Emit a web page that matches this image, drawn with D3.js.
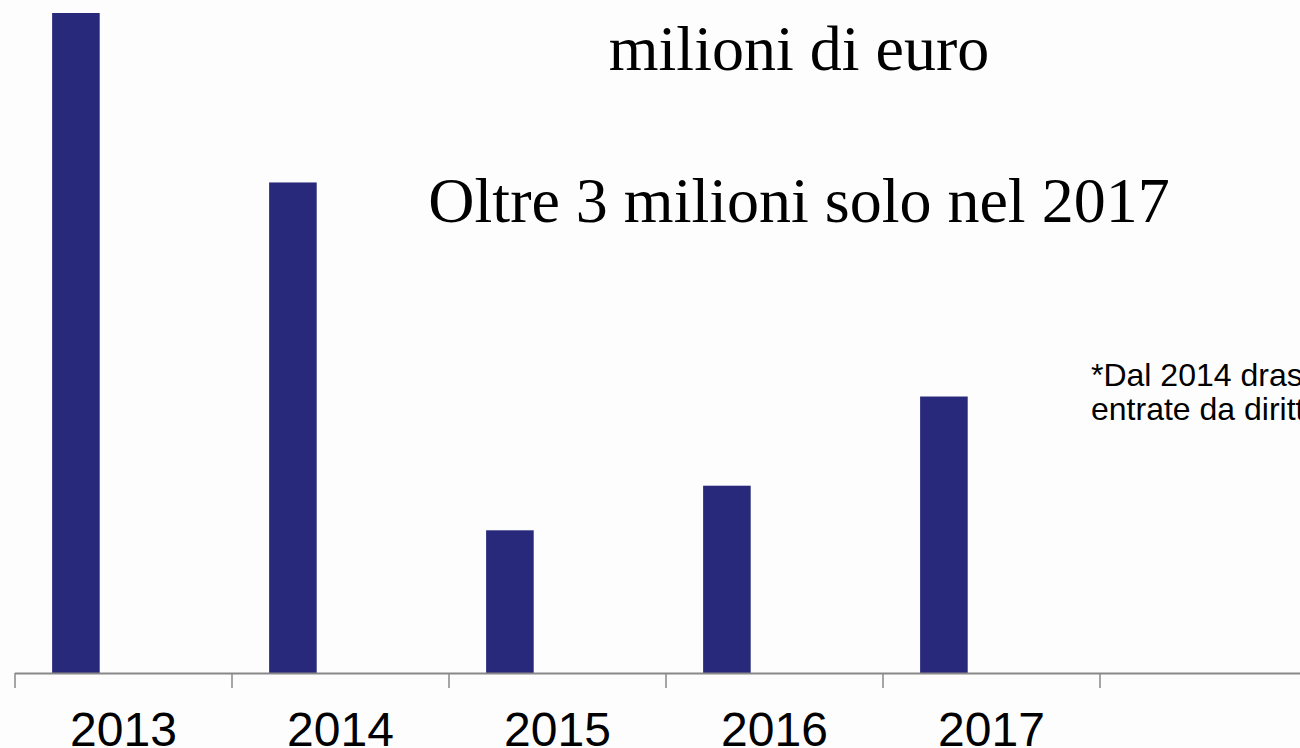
<!DOCTYPE html>
<html>
<head>
<meta charset="utf-8">
<script src="https://cdn.jsdelivr.net/npm/d3@7"></script>
<style>
  html, body { margin: 0; padding: 0; background: #fdfdfd; }
  svg { display: block; }
</style>
</head>
<body>
<svg id="chart" width="1300" height="748"></svg>
<script>
// categories (the last slot is an empty band in the original slide)
const years = ['2013', '2014', '2015', '2016', '2017', ''];
// entrate, milioni di euro
const values = [7.4, 5.5, 1.6, 2.1, 3.1];
const titleLines = ['milioni di euro', 'Oltre 3 milioni solo nel 2017'];
const noteLines = ['*Dal 2014 drasticamente ridotte le', 'entrate da diritti'];

const width = 1300, height = 748;
const svg = d3.select('#chart');

const x = d3.scaleBand()
    .domain(years)
    .range([15, 15 + 217 * years.length]);

const y = d3.scaleLinear()
    .domain([0, 7.4])
    .range([673, 13]);

// bars sit in the first third of each band (single series of a clustered layout)
const slot = d3.scaleBand()
    .domain([0, 1, 2])
    .range([0, x.bandwidth()])
    .paddingInner(0)
    .paddingOuter(0.78);

svg.append('g')
    .selectAll('rect')
    .data(values)
    .join('rect')
    .attr('x', (d, i) => x(years[i]) + slot(0))
    .attr('y', d => y(d))
    .attr('width', slot.bandwidth())
    .attr('height', d => y(0) - y(d))
    .attr('fill', '#29297b');

// x axis
const xAxis = svg.append('g')
    .attr('transform', `translate(0,${y(0)})`)
    .call(d3.axisBottom(x).tickSize(0).tickSizeOuter(0));

xAxis.select('.domain')
    .attr('d', `M15,0.5H${width}`)
    .attr('stroke', '#888')
    .attr('stroke-width', 2);

xAxis.selectAll('.tick text')
    .attr('y', 73)
    .attr('dy', 0)
    .attr('font-family', 'Liberation Sans, Arial, sans-serif')
    .attr('font-size', '48px')
    .attr('fill', '#000');

// band separators
svg.append('g')
    .selectAll('line')
    .data(years)
    .join('line')
    .attr('x1', d => x(d))
    .attr('x2', d => x(d))
    .attr('y1', y(0))
    .attr('y2', y(0) + 15)
    .attr('stroke', '#888')
    .attr('stroke-width', 1.5);

// title
svg.append('g')
    .selectAll('text')
    .data(titleLines)
    .join('text')
    .attr('x', 799)
    .attr('y', (d, i) => i === 0 ? 70 : 222)
    .attr('text-anchor', 'middle')
    .attr('font-family', 'Liberation Serif, Times New Roman, serif')
    .attr('font-size', '64px')
    .attr('fill', '#000')
    .text(d => d);

// side note (cut by the right edge, as in the original)
svg.append('g')
    .selectAll('text')
    .data(noteLines)
    .join('text')
    .attr('x', 1091)
    .attr('y', (d, i) => 386 + i * 34)
    .attr('font-family', 'Liberation Sans, Arial, sans-serif')
    .attr('font-size', '32px')
    .attr('fill', '#000')
    .text(d => d);
</script>
</body>
</html>
